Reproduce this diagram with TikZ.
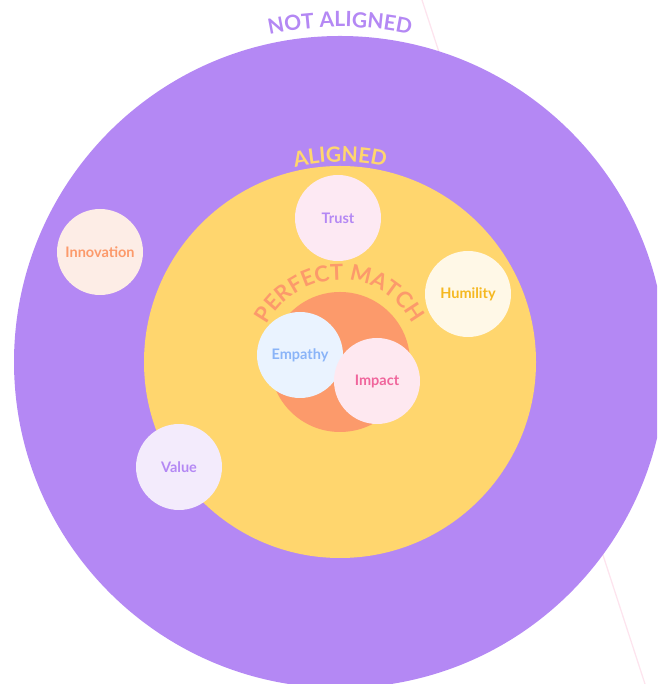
\documentclass[tikz,border=0pt]{standalone}
\usepackage{fontspec}
\setmainfont{Lato}
\usetikzlibrary{decorations.text}
\definecolor{lilac}{HTML}{B488F4}
\definecolor{sun}{HTML}{FFD66E}
\definecolor{coral}{HTML}{FC9A6B}
\definecolor{blush}{HTML}{FDE4EE}
\definecolor{trustfill}{HTML}{FDE9F3}
\definecolor{humfill}{HTML}{FFF8E7}
\definecolor{humtext}{HTML}{F5B820}
\definecolor{innofill}{HTML}{FDEDE6}
\definecolor{empfill}{HTML}{EAF3FF}
\definecolor{emptext}{HTML}{8AB4F8}
\definecolor{impfill}{HTML}{FEE8F0}
\definecolor{imptext}{HTML}{F0659C}
\definecolor{valfill}{HTML}{F3EBFC}

\begin{document}
\begin{tikzpicture}[
  x=1pt, y=1pt,
  ring/.style={circle, inner sep=0pt, minimum size=#1},
  bubble/.style={circle, inner sep=0pt, minimum size=86pt,
                 font=\fontsize{14.5}{17}\selectfont\bfseries},
  arclabel/.style={decorate, decoration={text along path,
                   text align=center, text color=#1}}
]
\useasboundingbox (0,0) rectangle (657,684);
\clip (0,0) rectangle (657,684);
\coordinate (c) at (340,322);
\coordinate (lineTop) at (422,684);
\coordinate (lineBot) at (645,0);
\draw[blush, line width=1.3pt] (lineTop) -- (lineBot);

\node[ring=652pt, fill=lilac] (outer) at (c) {};
\node[ring=392pt, fill=sun] (aligned) at (c) {};
\node[ring=140pt, fill=coral] (match) at (c) {};

\path[arclabel=lilac, decoration={text={|\fontsize{21}{21}\selectfont\bfseries|NOT ALIGNED}}]
  ([shift={(150:335)}]c) arc[start angle=150, end angle=30, radius=335];
\path[arclabel=sun, decoration={text={|\fontsize{21}{21}\selectfont\bfseries|ALIGNED}}]
  ([shift={(160:200)}]c) arc[start angle=160, end angle=20, radius=200];
\path[arclabel=coral, decoration={text={|\fontsize{22}{22}\selectfont\bfseries|PERFECT MATCH}}]
  ([shift={(175:82)}]c) arc[start angle=175, end angle=5, radius=82];

\node[bubble, fill=trustfill, text=lilac] (trust) at (338,466) {Trust};
\node[bubble, fill=humfill, text=humtext] (humility) at (468,390) {Humility};
\node[bubble, fill=innofill, text=coral] (innovation) at (100,432) {Innovation};
\node[bubble, fill=valfill, text=lilac] (value) at (179,217) {Value};
\node[bubble, fill=empfill, text=emptext] (empathy) at (300,329) {Empathy};
\node[bubble, fill=impfill, text=imptext] (impact) at (377,303) {Impact};
\end{tikzpicture}
\end{document}
